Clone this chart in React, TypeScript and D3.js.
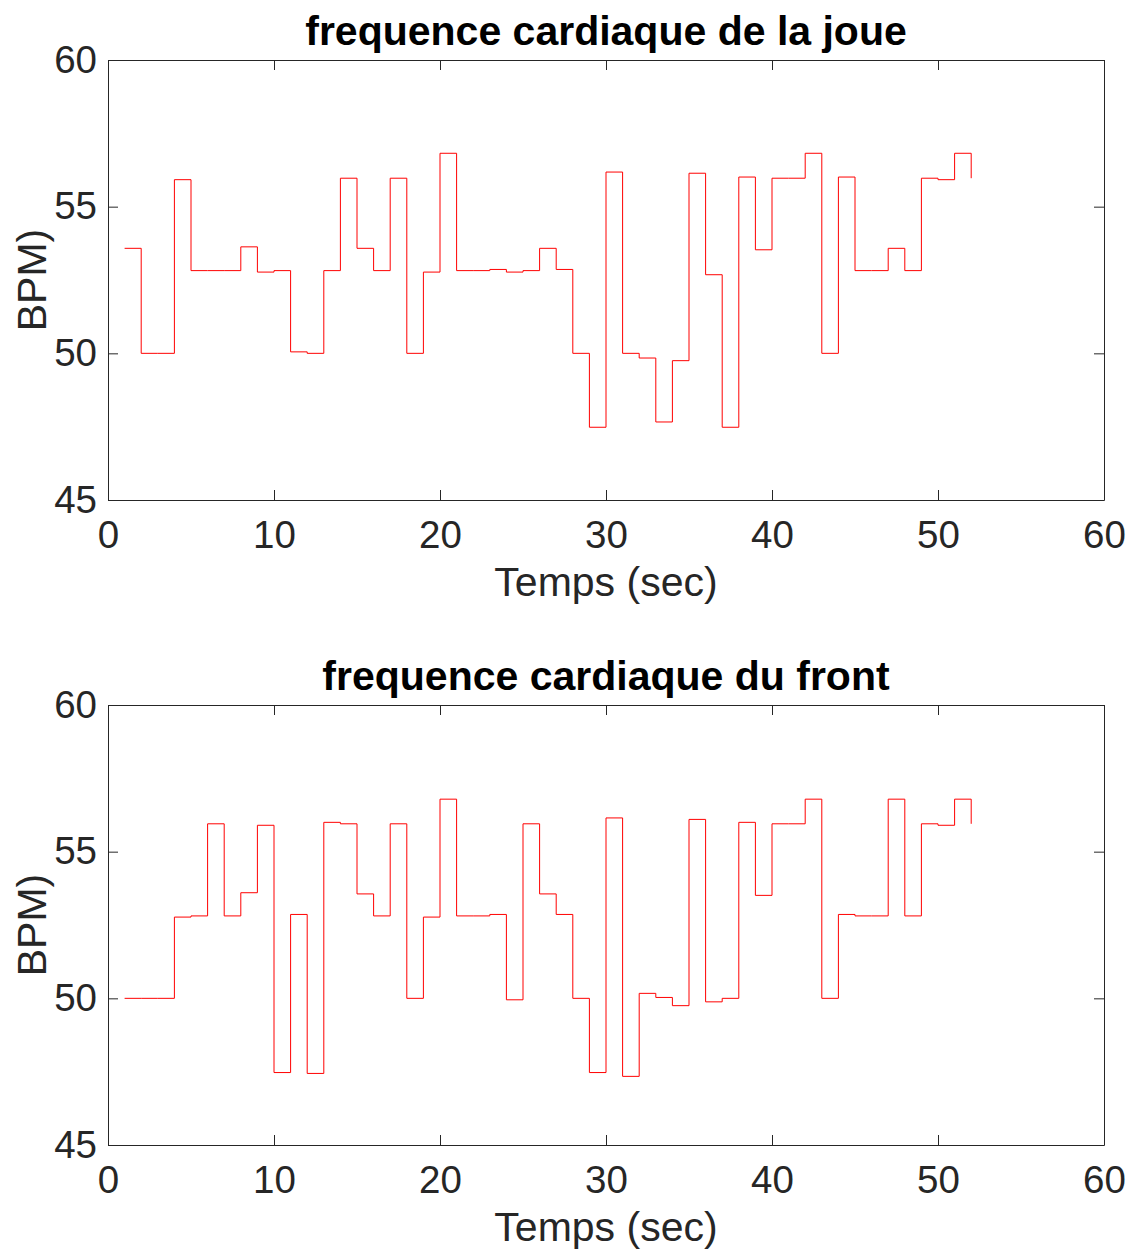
import React, { useRef, useEffect } from 'react';
import { select, scaleLinear, axisBottom, axisLeft, axisTop, axisRight, line, curveStepAfter } from 'd3';

const times = [
  1, 2, 3, 4, 5, 6, 7, 8, 9, 10, 11, 12, 13, 14, 15, 16, 17, 18, 19, 20, 21, 22, 23, 24, 25, 26,
  27, 28, 29, 30, 31, 32, 33, 34, 35, 36, 37, 38, 39, 40, 41, 42, 43, 44, 45, 46, 47, 48, 49, 50, 51, 52,
];

const bpmJoue = [
  53.58, 50.0, 50.0, 55.92, 52.82, 52.82, 52.82, 53.63, 52.77, 52.82, 50.05, 50.0, 52.82,
  55.97, 53.58, 52.82, 55.97, 50.0, 52.77, 56.82, 52.82, 52.82, 52.86, 52.77, 52.82, 53.58,
  52.86, 50.0, 47.48, 56.18, 50.0, 49.84, 47.66, 49.75, 56.14, 52.68, 47.48, 56.01, 53.53,
  55.97, 55.97, 56.82, 50.0, 56.01, 52.82, 52.82, 53.58, 52.82, 55.97, 55.92, 56.82, 55.97,
];

const bpmFront = [
  50.0, 50.0, 50.0, 52.77, 52.81, 55.95, 52.81, 53.6, 55.9, 47.47, 52.86, 47.44, 56.0,
  55.95, 53.56, 52.81, 55.95, 50.0, 52.77, 56.79, 52.81, 52.81, 52.86, 49.95, 55.95, 53.56,
  52.86, 50.0, 47.47, 56.15, 47.34, 50.17, 50.03, 49.75, 56.1, 49.88, 50.0, 56.0, 53.51,
  55.95, 55.95, 56.79, 50.0, 52.86, 52.81, 52.81, 56.79, 52.81, 55.95, 55.9, 56.79, 55.95,
];

const xTicks = [0, 10, 20, 30, 40, 50, 60];
const yTicks = [45, 50, 55, 60];

const titles = ['frequence cardiaque de la joue', 'frequence cardiaque du front'];
const xLabel = 'Temps (sec)';
const yLabel = 'BPM)';

const FONT = '"Liberation Sans", Arial, Helvetica, sans-serif';
const AXIS_COLOR = '#262626';

const left = 108;
const right = 1104;

const Panel = ({ top, bottom, title, values }) => {
  const gRef = useRef(null);

  const x = scaleLinear().domain([0, 60]).range([left, right]);
  const y = scaleLinear().domain([45, 60]).range([bottom, top]);

  useEffect(() => {
    const g = select(gRef.current);
    g.selectAll('*').remove();

    const styleAxis = (sel) => {
      sel.select('.domain').attr('stroke', AXIS_COLOR);
      sel.selectAll('.tick line').attr('stroke', AXIS_COLOR);
      sel.selectAll('.tick text')
        .attr('fill', AXIS_COLOR)
        .style('font-family', FONT)
        .style('font-size', '38.5px');
    };

    // bottom + left carry the labels, top + right only the inner ticks
    g.append('g')
      .attr('transform', `translate(0,${bottom})`)
      .call(axisBottom(x).tickValues(xTicks).tickSizeInner(-10).tickSizeOuter(0).tickPadding(21))
      .call(styleAxis);

    g.append('g')
      .attr('transform', `translate(${left},0)`)
      .call(axisLeft(y).tickValues(yTicks).tickSizeInner(-10).tickSizeOuter(0).tickPadding(11))
      .call(styleAxis);

    g.append('g')
      .attr('transform', `translate(0,${top})`)
      .call(axisTop(x).tickValues(xTicks).tickSizeInner(-10).tickSizeOuter(0).tickFormat(() => ''))
      .call(styleAxis);

    g.append('g')
      .attr('transform', `translate(${right},0)`)
      .call(axisRight(y).tickValues(yTicks).tickSizeInner(-10).tickSizeOuter(0).tickFormat(() => ''))
      .call(styleAxis);
  }, [top, bottom]);

  const stairs = line()
    .x((d) => x(d[0]))
    .y((d) => y(d[1]))
    .curve(curveStepAfter);

  const pts = times.map((t, i) => [t, values[i]]);

  return (
    <g>
      <path d={stairs(pts)} fill="none" stroke="#ff0000" strokeWidth={1} />
      <g ref={gRef} />
      <text
        x={(left + right) / 2}
        y={top - 15}
        textAnchor="middle"
        fontFamily={FONT}
        fontWeight="bold"
        fontSize={41}
        fill="#000"
      >
        {title}
      </text>
      <text
        x={(left + right) / 2}
        y={bottom + 96}
        textAnchor="middle"
        fontFamily={FONT}
        fontSize={41}
        fill={AXIS_COLOR}
      >
        {xLabel}
      </text>
      <text
        transform={`translate(46,${(top + bottom) / 2}) rotate(-90)`}
        textAnchor="middle"
        fontFamily={FONT}
        fontSize={41}
        fill={AXIS_COLOR}
      >
        {yLabel}
      </text>
    </g>
  );
};

const App = () => {
  return (
    <svg
      width={1129}
      height={1252}
      style={{ position: 'absolute', left: 0, top: 0, background: '#fff' }}
    >
      <rect width={1129} height={1252} fill="#fff" />
      <Panel top={60} bottom={500} title={titles[0]} values={bpmJoue} />
      <Panel top={705} bottom={1145} title={titles[1]} values={bpmFront} />
    </svg>
  );
};

export default App;
